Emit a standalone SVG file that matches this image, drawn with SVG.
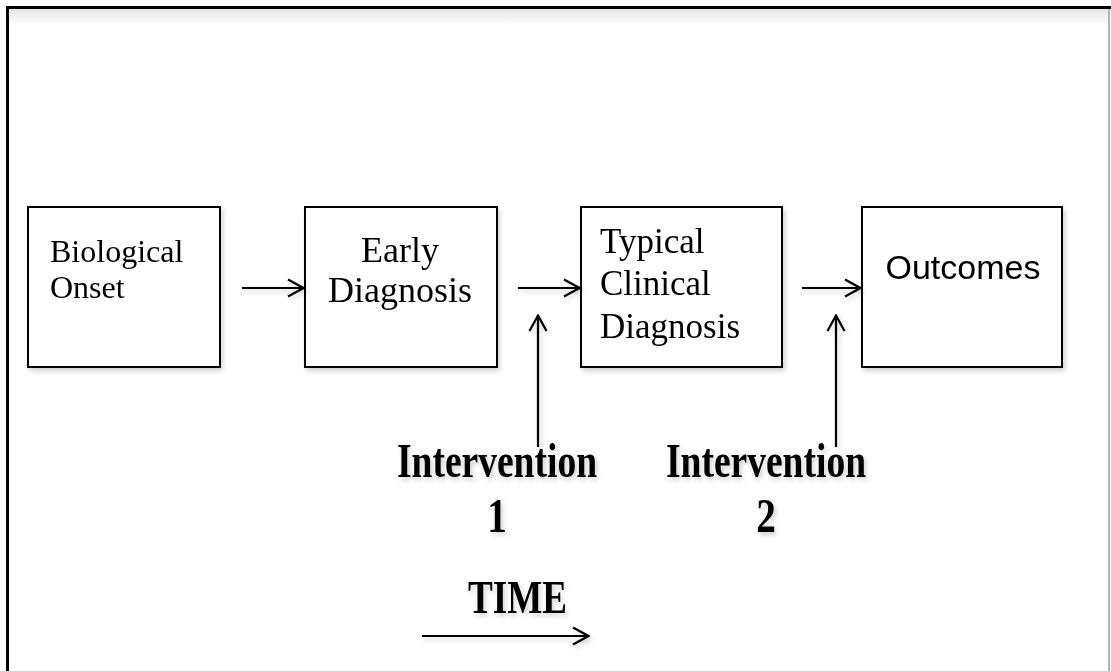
<svg xmlns="http://www.w3.org/2000/svg" width="1111" height="671" viewBox="0 0 1111 671">
<style>
.box{fill:#fff;stroke:#000;stroke-width:2}
.serif{font-family:"Liberation Serif","Times New Roman",serif;fill:#000}
.sans{font-family:"Liberation Sans",Arial,sans-serif;fill:#000}
.bold{font-family:"Liberation Serif","Times New Roman",serif;font-weight:bold;fill:#000}
.conn{stroke:#000;stroke-width:2.2;fill:none}
</style>
<defs>
<filter id="sh" x="-10%" y="-10%" width="130%" height="130%">
<feDropShadow dx="2" dy="3" stdDeviation="2.5" flood-color="#000" flood-opacity="0.18"/>
</filter>
<linearGradient id="topg" x1="0" y1="0" x2="0" y2="1">
<stop offset="0" stop-color="#e6e6e6"/><stop offset="1" stop-color="#fff"/>
</linearGradient>
<marker id="ah" viewBox="0 0 18 20" refX="17" refY="10" markerWidth="18" markerHeight="20" markerUnits="userSpaceOnUse" orient="auto">
<path d="M1,1.5 L16.5,10 L1,18.5" fill="none" stroke="#000" stroke-width="2.2"/>
</marker>
</defs>
<rect x="0" y="0" width="1111" height="671" fill="#fff"/>
<g id="frame">
<rect x="9" y="9" width="1100" height="16" fill="url(#topg)"/>
<line x1="1109" y1="8" x2="1109" y2="671" stroke="#999" stroke-width="1.5"/>
<path d="M7.5,671 V7.5 H1111" fill="none" stroke="#000" stroke-width="3"/>
</g>
<g id="node-biological" filter="url(#sh)">
<rect class="box" x="28" y="207" width="192" height="160"/>
<text class="serif" font-size="32"><tspan x="50" y="262">Biological</tspan><tspan x="50" y="298">Onset</tspan></text>
</g>
<g id="node-early" filter="url(#sh)">
<rect class="box" x="305" y="207" width="192" height="160"/>
<text class="serif" font-size="36" text-anchor="middle"><tspan x="400" y="262">Early</tspan><tspan x="400" y="302">Diagnosis</tspan></text>
</g>
<g id="node-typical" filter="url(#sh)">
<rect class="box" x="581" y="207" width="201" height="160"/>
<text class="serif" font-size="35"><tspan x="600" y="253">Typical</tspan><tspan x="600" y="295">Clinical</tspan><tspan x="600" y="338">Diagnosis</tspan></text>
</g>
<g id="node-outcomes" filter="url(#sh)">
<rect class="box" x="862" y="207" width="200" height="160"/>
<text class="sans" font-size="34" x="963" y="279" text-anchor="middle">Outcomes</text>
</g>
<g id="connectors" filter="url(#sh)">
<line class="conn" x1="242" y1="288" x2="304" y2="288" marker-end="url(#ah)"/>
<line class="conn" x1="518" y1="288" x2="580" y2="288" marker-end="url(#ah)"/>
<line class="conn" x1="802" y1="288" x2="861" y2="288" marker-end="url(#ah)"/>
<line class="conn" x1="538" y1="447" x2="538" y2="315" marker-end="url(#ah)"/>
<line class="conn" x1="836" y1="447" x2="836" y2="315" marker-end="url(#ah)"/>
<line class="conn" x1="422" y1="636" x2="589" y2="636" marker-end="url(#ah)"/>
</g>
<g id="label-intervention1" filter="url(#sh)">
<text class="bold" font-size="49" x="397" y="477" textLength="200" lengthAdjust="spacingAndGlyphs">Intervention</text>
<text class="bold" font-size="49" x="497" y="532" text-anchor="middle" transform="translate(497 0) scale(0.8 1) translate(-497 0)">1</text>
</g>
<g id="label-intervention2" filter="url(#sh)">
<text class="bold" font-size="49" x="666" y="477" textLength="200" lengthAdjust="spacingAndGlyphs">Intervention</text>
<text class="bold" font-size="49" x="766" y="532" text-anchor="middle" transform="translate(766 0) scale(0.8 1) translate(-766 0)">2</text>
</g>
<g id="label-time" filter="url(#sh)">
<text class="bold" font-size="47" x="468" y="613" textLength="99" lengthAdjust="spacingAndGlyphs">TIME</text>
</g>
</svg>
